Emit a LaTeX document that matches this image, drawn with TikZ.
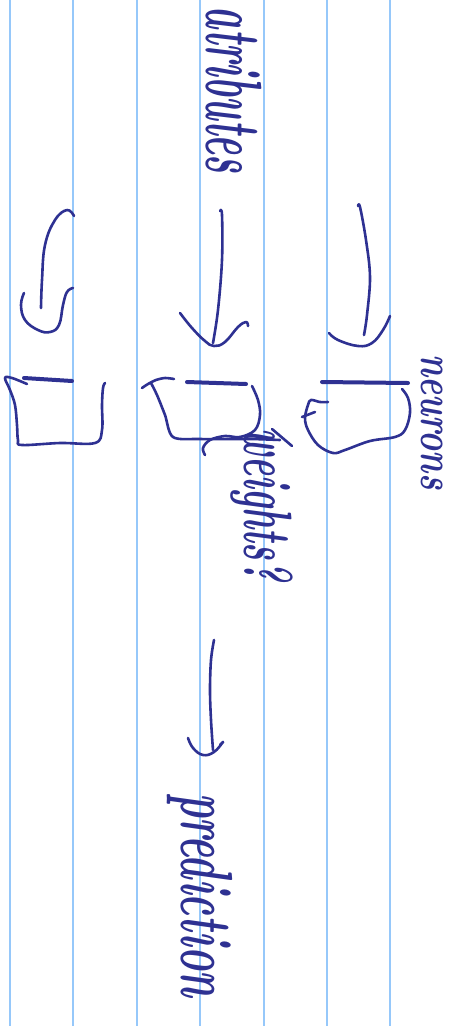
\documentclass[tikz,border=0pt]{standalone}
\begin{document}
\definecolor{ink}{RGB}{46,49,146}
\definecolor{rule}{RGB}{150,200,250}
\begin{tikzpicture}[x=1pt,y=-1pt,
  pen/.style={draw=ink,line width=2.6pt,line cap=round,line join=round},
  thick pen/.style={draw=ink,line width=4pt,line cap=round},
  ruling/.style={draw=rule,line width=2pt},
  word/.style={text=ink,rotate=-90,inner sep=0pt}]
\useasboundingbox (0,0) rectangle (461,1026);
\fill[white] (0,0) rectangle (461,1026);
% ruled lines
\foreach \x in {9.5,73,136.5,200,263.5,327,390}
  \draw[ruling] (\x,0) -- (\x,1026);
% labels
\node[word,yscale=2.1,font=\bfseries\itshape\fontsize{38}{38}\selectfont] (attr) at (234,90) {atributes};
\node[word,yscale=1.4,font=\bfseries\itshape\fontsize{34}{34}\selectfont] (neur) at (432,422) {neurons};
\node[word,yscale=1.9,font=\bfseries\itshape\fontsize{36}{36}\selectfont] (wts) at (262,505) {weights?};
\node[word,yscale=1.8,font=\bfseries\itshape\fontsize{41}{41}\selectfont] (pred) at (200,895) {prediction};
% arrow 1 (left, hook)
\draw[pen] plot[smooth,tension=0.7] coordinates {(74,216) (67,210) (55,220) (45,245) (42,280) (41,308)};
\draw[pen] plot[smooth,tension=0.7] coordinates {(24,293) (21,305) (25,320) (38,330) (50,332) (59,325) (63,305) (67,292) (73,288)};
% arrow 2 (middle)
\draw[pen] plot[smooth,tension=0.6] coordinates {(220,211) (222,215) (222,260) (218,310) (213,343)};
\draw[pen] plot[smooth,tension=0.7] coordinates {(180,313) (192,328) (205,341) (214,346) (225,342) (238,327) (246,322) (248,326)};
% arrow 3 (right)
\draw[pen] plot[smooth,tension=0.6] coordinates {(358,206) (360,207) (366,240) (370,277) (367,315) (364,335)};
\draw[pen] plot[smooth,tension=0.7] coordinates {(329,333) (338,340) (358,346) (372,343) (383,330) (390,316)};
% arrow 4 (bottom)
\draw[pen] plot[smooth,tension=0.6] coordinates {(214,640) (211,660) (210,690) (211,720) (213,750)};
\draw[pen] plot[smooth,tension=0.7] coordinates {(188,738) (193,748) (203,755) (214,752) (223,742) (220,745)};
% box 1
\draw[thick pen] (24,378) -- (72,381);
\draw[pen] plot[smooth,tension=0.6] coordinates {(27,384) (12,378) (5,378) (10,390) (15,405) (17,425) (18,440) (22,445) (60,443) (95,443) (102,430) (102,405) (103,388) (105,383)};
% box 2
\draw[thick pen] (187,382) -- (246,384);
\draw[pen] plot[smooth,tension=0.5] coordinates {(142,388) (148,384) (156,380) (165,378) (174,379)};
\draw[pen] plot[smooth,tension=0.5] coordinates {(151,383) (157,395) (165,415) (173,437) (200,439) (250,439) (280,440)};
\draw[pen] (272,429) -- (292,446);
\draw[pen] plot[smooth,tension=0.6] coordinates {(252,386) (258,400) (260,415) (255,430) (240,437) (225,436) (210,440) (203,448) (205,455)};
% box 3
\draw[thick pen] (322,382) -- (408,383);
\draw[pen] plot[smooth,tension=0.6] coordinates {(402,389) (408,398) (410,413) (405,430) (395,437) (370,441) (345,450) (333,453) (318,445) (308,430) (305,418) (308,405) (311,400) (320,402) (328,402)};
\draw[pen] (302,417) -- (315,412);
\end{tikzpicture}
\end{document}
